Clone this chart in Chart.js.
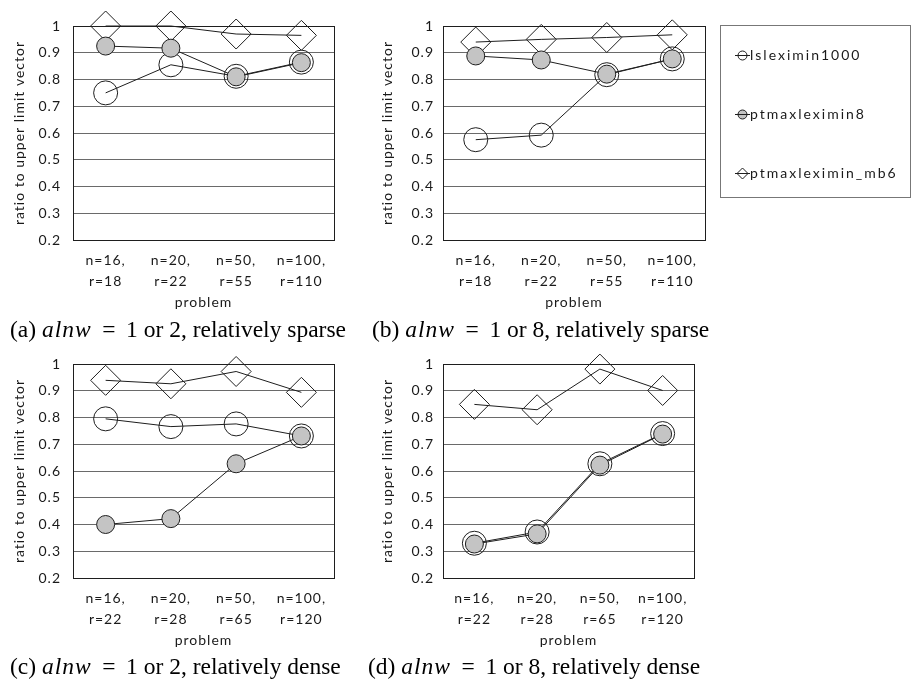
<!DOCTYPE html>
<html>
<head>
<meta charset="utf-8">
<script src="https://cdn.jsdelivr.net/npm/chart.js@4.4.1/dist/chart.umd.min.js"></script>
<style>
  html, body { margin: 0; padding: 0; background: #fff; }
  #page { position: relative; width: 911px; height: 685px; overflow: hidden; }
  canvas { position: absolute; }
  .cap { position: absolute; font-family: "Liberation Serif", "Times New Roman", serif; font-size: 23.5px; line-height: 23.5px; white-space: nowrap; color: #000; }
  .cap i { letter-spacing: 1px; }
  .cap .eq { margin: 0 0.2em; }
</style>
</head>
<body>
<div id="page">
  <canvas id="chartA" width="350" height="318" style="left:0;top:0"></canvas>
  <canvas id="chartB" width="551" height="318" style="left:360px;top:0"></canvas>
  <canvas id="chartC" width="350" height="318" style="left:0;top:338px"></canvas>
  <canvas id="chartD" width="350" height="318" style="left:360px;top:338px"></canvas>
  <div class="cap" style="left:10px;top:318px">(a) <i>alnw</i> <span class="eq">=</span> 1 or 2, relatively sparse</div>
  <div class="cap" style="left:372px;top:318px">(b) <i>alnw</i> <span class="eq">=</span> 1 or 8, relatively sparse</div>
  <div class="cap" style="left:10px;top:655px">(c) <i>alnw</i> <span class="eq">=</span> 1 or 2, relatively dense</div>
  <div class="cap" style="left:368px;top:655px">(d) <i>alnw</i> <span class="eq">=</span> 1 or 8, relatively dense</div>
</div>
<script>
// categories
const sparseLabels = [['n=16,', 'r=18'], ['n=20,', 'r=22'], ['n=50,', 'r=55'], ['n=100,', 'r=110']];
const denseLabels = [['n=16,', 'r=22'], ['n=20,', 'r=28'], ['n=50,', 'r=65'], ['n=100,', 'r=120']];
const seriesNames = ['lsleximin1000', 'ptmaxleximin8', 'ptmaxleximin_mb6'];

// y axis
const yMin = 0.2;
const yMax = 1;
const yStep = 0.1;

// (a) alnw = 1 or 2, sparse
const lslexA = [0.75, 0.855, 0.812, 0.865];
const ptmaxA = [0.925, 0.917, 0.81, 0.863];
const mb6A = [1.0, 1.0, 0.97, 0.965];
// (b) alnw = 1 or 8, sparse
const lslexB = [0.575, 0.592, 0.818, 0.877];
const ptmaxB = [0.888, 0.873, 0.82, 0.877];
const mb6B = [0.94, 0.95, 0.957, 0.967];
// (c) alnw = 1 or 2, dense
const lslexC = [0.795, 0.766, 0.776, 0.731];
const ptmaxC = [0.4, 0.422, 0.627, 0.731];
const mb6C = [0.939, 0.926, 0.972, 0.894];
// (d) alnw = 1 or 8, dense
const lslexD = [0.33, 0.372, 0.627, 0.74];
const ptmaxD = [0.327, 0.365, 0.622, 0.738];
const mb6D = [0.849, 0.829, 0.981, 0.901];

const ink = '#1e1e1e';
const textColor = '#1a1a1a';
const fontFamily = 'Lato, "Open Sans", sans-serif';
const grayFill = '#c4c4c4';

const markerStyles = [
  { pointStyle: 'circle', pointRadius: 12, pointBackgroundColor: 'rgba(255,255,255,0)', order: 1 },
  { pointStyle: 'circle', pointRadius: 9, pointBackgroundColor: grayFill, order: 0 },
  { pointStyle: 'rectRot', pointRadius: 15, pointBackgroundColor: 'rgba(255,255,255,0)', order: 2 },
];

const makeDatasets = (values) => values.map((data, i) => ({
  label: seriesNames[i],
  data: data,
  borderColor: ink,
  borderWidth: 1,
  pointBorderColor: ink,
  pointBorderWidth: 1,
  tension: 0,
  clip: false,
  ...markerStyles[i],
}));

// legend symbol: short line with the marker on it
const makeIcon = (kind) => {
  const c = document.createElement('canvas');
  c.width = 32;
  c.height = 14;
  const g = c.getContext('2d');
  g.strokeStyle = ink;
  g.lineWidth = 1;
  if (kind === 1) {
    g.fillStyle = grayFill;
    g.beginPath(); g.arc(23.5, 7.5, 4.5, 0, Math.PI * 2); g.fill();
  }
  g.beginPath(); g.moveTo(16, 7.5); g.lineTo(31, 7.5); g.stroke();
  g.beginPath();
  if (kind === 2) {
    g.moveTo(18, 7.5); g.lineTo(23.5, 2); g.lineTo(29, 7.5); g.lineTo(23.5, 13); g.closePath();
  } else {
    g.arc(23.5, 7.5, 4.5, 0, Math.PI * 2);
  }
  g.stroke();
  return c;
};
const legendIcons = [makeIcon(0), makeIcon(1), makeIcon(2)];

// the source figure has loosely spaced axis text
const textSpacing = {
  id: 'textSpacing',
  beforeDraw(chart) { chart.ctx.letterSpacing = '1px'; },
};

const plotFrame = {
  id: 'plotFrame',
  beforeDatasetsDraw(chart) {
    const { ctx, chartArea: a } = chart;
    ctx.save();
    ctx.strokeStyle = ink;
    ctx.lineWidth = 1;
    ctx.strokeRect(Math.round(a.left) + 0.5, Math.round(a.top) + 0.5,
      Math.round(a.right - a.left), Math.round(a.bottom - a.top));
    ctx.restore();
  },
};

const legendFrame = {
  id: 'legendFrame',
  beforeLayout(chart) {
    const lg = chart.legend;
    if (lg && !lg._fixed) {
      const fit = lg.fit;
      lg.fit = function () { fit.call(this); this.width = 206; };
      const draw = lg.draw;
      lg.draw = function () {
        this.ctx.save();
        this.ctx.letterSpacing = '2px';
        draw.apply(this, arguments);
        this.ctx.restore();
      };
      lg._fixed = true;
    }
  },
  afterDraw(chart) {
    const ctx = chart.ctx;
    ctx.save();
    ctx.strokeStyle = '#777';
    ctx.lineWidth = 1;
    ctx.strokeRect(360.5, 25.5, 190, 172);
    ctx.restore();
  },
};

const makeOptions = (cfg) => ({
  responsive: false,
  animation: false,
  events: [],
  layout: { padding: { top: 26, right: cfg.padRight, bottom: 0, left: 0 } },
  plugins: {
    tooltip: { enabled: false },
    legend: cfg.legend ? {
      display: true,
      position: 'right',
      align: 'start',
      labels: {
        usePointStyle: true,
        pointStyleWidth: 16,
        padding: 22,
        color: textColor,
        font: { family: fontFamily, size: 14, lineHeight: 37 / 14 },
        generateLabels: (chart) => chart.data.datasets.map((ds, i) => ({
          text: [ds.label],
          pointStyle: legendIcons[i],
          datasetIndex: i,
          fontColor: textColor,
          lineWidth: 0,
          strokeStyle: 'rgba(0,0,0,0)',
          fillStyle: 'rgba(0,0,0,0)',
        })),
      },
    } : { display: false },
  },
  scales: {
    x: {
      offset: true,
      grid: { display: false, drawTicks: false },
      border: { display: false },
      ticks: {
        color: textColor,
        autoSkip: false,
        maxRotation: 0,
        padding: 9.5,
        font: { family: fontFamily, size: 14, lineHeight: 1.5 },
      },
      title: {
        display: true,
        text: 'problem',
        color: textColor,
        font: { family: fontFamily, size: 14 },
        padding: { top: 0, bottom: 7.6 },
      },
      afterFit: (s) => { s.height = 78; },
    },
    y: {
      min: yMin,
      max: yMax,
      grid: { color: '#6a6a6a', drawTicks: false },
      border: { display: false },
      ticks: {
        stepSize: yStep,
        color: textColor,
        padding: cfg.tickPad,
        font: { family: fontFamily, size: 14 },
        callback: (v) => String(Math.round(v * 10) / 10),
      },
      title: {
        display: true,
        text: 'ratio to upper limit vector',
        color: textColor,
        font: { family: fontFamily, size: 14 },
        padding: { top: cfg.titlePad, bottom: 0 },
      },
      afterFit: (s) => { s.width = cfg.yWidth; },
    },
  },
});

const leftPanel = { padRight: 14, yWidth: 73, tickPad: 12, titlePad: 10.6 };
const rightPanel = { padRight: 5, yWidth: 83, tickPad: 9, titlePad: 19.1 };

new Chart(document.getElementById('chartA'), {
  type: 'line',
  data: { labels: sparseLabels, datasets: makeDatasets([lslexA, ptmaxA, mb6A]) },
  options: makeOptions(leftPanel),
  plugins: [textSpacing, plotFrame],
});

new Chart(document.getElementById('chartB'), {
  type: 'line',
  data: { labels: sparseLabels, datasets: makeDatasets([lslexB, ptmaxB, mb6B]) },
  options: makeOptions({ ...rightPanel, padRight: 0, legend: true }),
  plugins: [textSpacing, plotFrame, legendFrame],
});

new Chart(document.getElementById('chartC'), {
  type: 'line',
  data: { labels: denseLabels, datasets: makeDatasets([lslexC, ptmaxC, mb6C]) },
  options: makeOptions(leftPanel),
  plugins: [textSpacing, plotFrame],
});

new Chart(document.getElementById('chartD'), {
  type: 'line',
  data: { labels: denseLabels, datasets: makeDatasets([lslexD, ptmaxD, mb6D]) },
  options: makeOptions(rightPanel),
  plugins: [textSpacing, plotFrame],
});
</script>
</body>
</html>
